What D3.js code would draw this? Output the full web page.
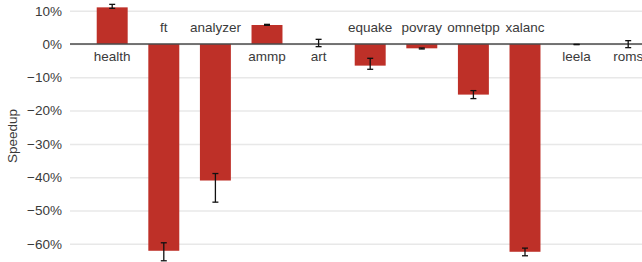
<!DOCTYPE html>
<html>
<head>
<meta charset="utf-8">
<script src="https://cdn.jsdelivr.net/npm/d3@7"></script>
<style>
  body { margin: 0; background: #fff; }
  svg { display: block; font-family: "Liberation Sans", Arial, sans-serif; }
</style>
</head>
<body>
<svg id="chart"></svg>
<script>
(() => {

  const benchmarks = ['health', 'ft', 'analyzer', 'ammp', 'art', 'equake', 'povray', 'omnetpp', 'xalanc', 'leela', 'roms'];
  const speedup = [0.110, -0.621, -0.410, 0.057, 0.000, -0.065, -0.013, -0.152, -0.624, 0.000, 0.000];
  const errLow = [0.107, -0.651, -0.475, 0.056, -0.008, -0.076, -0.015, -0.164, -0.636, -0.002, -0.011];
  const errHigh = [0.119, -0.597, -0.389, 0.059, 0.014, -0.043, -0.012, -0.140, -0.613, -0.001, 0.010];
  const tickValues = [0.1, 0, -0.1, -0.2, -0.3, -0.4, -0.5, -0.6];

  const dataset = benchmarks.map((name, i) => ({
    name: name,
    value: speedup[i],
    lo: errLow[i],
    hi: errHigh[i]
  }));

  const svgWidth = 642;
  const svgHeight = 262;
  const plotLeft = 70;

  const svg = d3.select('#chart')
    .attr('width', svgWidth)
    .attr('height', svgHeight);

  const xScale = d3.scaleBand()
    .domain(benchmarks)
    .range([86.4, 654])
    .paddingInner(0.4)
    .paddingOuter(0.2);

  const yScale = d3.scaleLinear()
    .domain([-0.6547, 0.1321])
    .range([svgHeight, 0]);

  // gridlines + tick labels
  const yAxis = svg.append('g')
    .attr('transform', `translate(${plotLeft}, 0)`)
    .call(d3.axisLeft(yScale)
      .tickValues(tickValues)
      .tickSize(-(svgWidth - plotLeft))
      .tickPadding(8)
      .tickFormat(d3.format('.0%')));

  yAxis.select('.domain').remove();
  yAxis.selectAll('.tick line')
    .attr('stroke', '#e8e8e8')
    .attr('stroke-width', 1.5);
  yAxis.selectAll('.tick text')
    .attr('fill', '#3a3a3a')
    .attr('font-size', '13.5px')
    .attr('font-family', '"Liberation Sans", Arial, sans-serif');

  svg.append('text')
    .attr('transform', `translate(17, 136) rotate(-90)`)
    .attr('text-anchor', 'middle')
    .attr('fill', '#3a3a3a')
    .attr('font-size', '13.5px')
    .text('Speedup');

  // bars
  svg.selectAll('rect.bar')
    .data(dataset)
    .enter()
    .append('rect')
    .attr('class', 'bar')
    .attr('fill', '#be3028')
    .attr('x', d => xScale(d.name))
    .attr('width', xScale.bandwidth())
    .attr('y', d => yScale(Math.max(0, d.value)))
    .attr('height', d => Math.abs(yScale(d.value) - yScale(0)));

  // zero line
  svg.append('line')
    .attr('x1', plotLeft)
    .attr('x2', svgWidth)
    .attr('y1', yScale(0))
    .attr('y2', yScale(0))
    .attr('stroke', '#4a4a4a')
    .attr('stroke-width', 1.5);

  // error bars
  const err = svg.selectAll('g.err')
    .data(dataset)
    .enter()
    .append('g')
    .attr('class', 'err')
    .attr('stroke', '#111')
    .attr('stroke-width', 1.3)
    .attr('transform', d => `translate(${xScale(d.name) + xScale.bandwidth() / 2}, 0)`);

  err.append('line')
    .attr('y1', d => yScale(d.lo))
    .attr('y2', d => yScale(d.hi));
  err.append('line')
    .attr('x1', -3).attr('x2', 3)
    .attr('y1', d => yScale(d.lo))
    .attr('y2', d => yScale(d.lo));
  err.append('line')
    .attr('x1', -3).attr('x2', 3)
    .attr('y1', d => yScale(d.hi))
    .attr('y2', d => yScale(d.hi));

  // category labels: below zero for non-negative bars, above for negative
  svg.selectAll('text.label')
    .data(dataset)
    .enter()
    .append('text')
    .attr('class', 'label')
    .attr('text-anchor', 'middle')
    .attr('fill', '#3a3a3a')
    .attr('font-size', '13.5px')
    .attr('x', d => xScale(d.name) + xScale.bandwidth() / 2)
    .attr('y', d => d.value >= 0 ? yScale(0) + 17.5 : yScale(0) - 11.5)
    .text(d => d.name);

})();
</script>
</body>
</html>
